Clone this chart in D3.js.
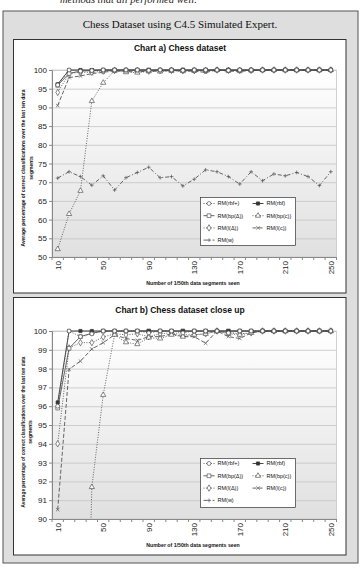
<!DOCTYPE html>
<html>
<head>
<meta charset="utf-8">
<script src="https://cdn.jsdelivr.net/npm/d3@7"></script>
<style>
  body { margin: 0; background: #fff; }
  svg { display: block; font-family: "Liberation Sans", Arial, sans-serif; }
</style>
</head>
<body>
<svg id="fig" width="361" height="571"></svg>
<script>
// x categories: number of 1/50th segments seen
var segs = [10, 20, 30, 40, 50, 60, 70, 80, 90, 100, 110, 120, 130, 140, 150, 160, 170, 180, 190, 200, 210, 220, 230, 240, 250];
var xLabels = [10, 50, 90, 130, 170, 210, 250];
var yTicksA = [50, 55, 60, 65, 70, 75, 80, 85, 90, 95, 100];
var yTicksB = [90, 91, 92, 93, 94, 95, 96, 97, 98, 99, 100];

var seriesNames = ["RM(rbf+)", "RM(rbf)", "RM(bp(\u0394))", "RM(bp(c))", "RM(l(\u0394))", "RM(l(c))", "RM(w)"];

var rbfPlus = [96.0, 100, 99.7, 99.85, 100, 100, 100, 100, 99.9, 100, 100, 99.9, 100, 100, 100, 99.9, 100, 100, 100, 100, 100, 100, 100, 100, 100];
var rbf     = [96.2, 100, 100, 100, 100, 100, 100, 100, 100, 100, 100, 100, 100, 100, 100, 100, 100, 100, 100, 100, 100, 100, 100, 100, 100];
var bpD     = [95.9, 99.08, 99.7, 99.88, 100, 100, 100, 100, 100, 100, 100, 100, 100, 100, 100, 100, 100, 100, 100, 100, 100, 100, 100, 100, 100];
var bpC     = [52.1, 61.5, 67.7, 91.7, 96.6, 99.8, 99.4, 99.3, 99.65, 99.6, 99.8, 99.7, 99.8, 99.85, 100, 99.85, 99.8, 99.9, 100, 100, 100, 100, 100, 100, 100];
var lD      = [94.0, 99.1, 99.38, 99.38, 99.68, 99.85, 99.8, 99.85, 99.7, 99.85, 99.9, 99.8, 99.8, 99.85, 100, 99.9, 99.85, 99.9, 100, 100, 100, 100, 100, 100, 100];
var lC      = [90.5, 97.96, 98.4, 99.04, 99.38, 99.8, 99.6, 99.5, 99.7, 99.7, 99.85, 99.7, 99.7, 99.35, 100, 99.7, 99.6, 99.9, 100, 100, 100, 100, 100, 100, 100];
var w       = [71.1, 72.8, 71.5, 69.2, 71.7, 67.9, 71.2, 72.6, 74.0, 71.2, 71.5, 69.0, 70.8, 73.3, 72.8, 71.5, 69.5, 72.8, 70.4, 72.2, 71.7, 72.6, 71.5, 69.1, 72.8];

// marker shapes for x and +
var symX = { draw: function(c, s) { var r = Math.sqrt(s) / 2; c.moveTo(-r, -r); c.lineTo(r, r); c.moveTo(-r, r); c.lineTo(r, -r); } };
var symPlus = { draw: function(c, s) { var r = Math.sqrt(s) / 2; c.moveTo(-r, 0); c.lineTo(r, 0); c.moveTo(0, -r); c.lineTo(0, r); } };

var series = [
  { name: seriesNames[0], values: rbfPlus, sym: d3.symbolCircle, size: 12, fill: "#fff", dash: "1,1.5", color: "#555" },
  { name: seriesNames[1], values: rbf,     sym: d3.symbolSquare, size: 10, fill: "#333", dash: null,    color: "#333" },
  { name: seriesNames[2], values: bpD,     sym: d3.symbolSquare, size: 14, fill: "#fff", dash: null,    color: "#555" },
  { name: seriesNames[3], values: bpC,     sym: d3.symbolTriangle, size: 12, fill: "#fff", dash: "1,1.5", color: "#555" },
  { name: seriesNames[4], values: lD,      sym: d3.symbolDiamond, size: 12, fill: "#fff", dash: "1,1.5", color: "#555" },
  { name: seriesNames[5], values: lC,      sym: symX,    size: 12, fill: "none", dash: "4,2",  color: "#555" },
  { name: seriesNames[6], values: w,       sym: symPlus, size: 14, fill: "none", dash: "4,2,1,2", color: "#555" }
];

var svg = d3.select("#fig");

var defs = svg.append("defs");
var grad = defs.append("linearGradient").attr("id", "plotGrad")
  .attr("x1", 0).attr("y1", 0).attr("x2", 0).attr("y2", 1);
grad.append("stop").attr("offset", "0%").attr("stop-color", "#ffffff");
grad.append("stop").attr("offset", "100%").attr("stop-color", "#e0e0e0");

// cut-off caption line from the page above
svg.append("text")
  .attr("x", 60).attr("y", 3)
  .attr("font-family", "Liberation Serif, Times New Roman, serif")
  .attr("font-style", "italic")
  .attr("font-size", 10.5)
  .attr("fill", "#222")
  .text("methods that all performed well.");

// outer grey panel
svg.append("rect")
  .attr("x", 3).attr("y", 11).attr("width", 355).attr("height", 552)
  .attr("fill", "#dedede").attr("stroke", "#555").attr("stroke-width", 1);

svg.append("text")
  .attr("x", 180).attr("y", 28)
  .attr("text-anchor", "middle")
  .attr("font-family", "Liberation Serif, Times New Roman, serif")
  .attr("font-size", 11)
  .attr("fill", "#111")
  .text("Chess Dataset using C4.5 Simulated Expert.");

function drawChart(cfg) {
  svg.append("rect")
    .attr("x", 13.5).attr("y", cfg.boxY).attr("width", 332.5).attr("height", cfg.boxH)
    .attr("fill", "#fff").attr("stroke", "#333").attr("stroke-width", 1);

  svg.append("text")
    .attr("x", 180).attr("y", cfg.titleY)
    .attr("text-anchor", "middle")
    .attr("font-weight", "bold")
    .attr("font-size", 8.5)
    .attr("fill", "#111")
    .text(cfg.title);

  var x = d3.scaleBand().domain(segs).range([52, 336.5]);
  var y = d3.scaleLinear().domain(cfg.yDomain).range([cfg.bottom, cfg.top]);
  var bw = x.bandwidth();
  var x0 = x.range()[0], x1 = x.range()[1];

  svg.append("rect")
    .attr("x", x0).attr("y", cfg.top)
    .attr("width", x1 - x0).attr("height", cfg.bottom - cfg.top)
    .attr("fill", "url(#plotGrad)")
    .attr("stroke", "#c8c8c8").attr("stroke-width", 0.8);

  // gridlines
  var grid = svg.append("g")
    .attr("transform", "translate(" + x0 + ",0)")
    .call(d3.axisLeft(y).tickValues(cfg.yTicks).tickSize(-(x1 - x0)).tickFormat(""));
  grid.select(".domain").remove();
  grid.selectAll("line").attr("stroke", "#c4c4c4").attr("stroke-width", 0.8);

  // y axis
  var ya = svg.append("g")
    .attr("transform", "translate(" + x0 + ",0)")
    .call(d3.axisLeft(y).tickValues(cfg.yTicks).tickSize(3).tickPadding(2));
  ya.select(".domain").attr("stroke", "#888");
  ya.selectAll("line").attr("stroke", "#888");
  ya.selectAll("text").attr("font-size", 8).attr("fill", "#222").attr("font-family", "Liberation Sans, Arial, sans-serif");

  // x axis
  var xa = svg.append("g")
    .attr("transform", "translate(0," + cfg.bottom + ")")
    .call(d3.axisBottom(x).tickValues(xLabels).tickSize(0));
  xa.select(".domain").attr("stroke", "#888");
  xa.selectAll("text")
    .attr("font-size", 8).attr("fill", "#222").attr("font-family", "Liberation Sans, Arial, sans-serif")
    .attr("text-anchor", "end")
    .attr("dy", "0.35em")
    .attr("transform", "translate(0,4) rotate(-90)")
    .attr("x", 0).attr("y", 0);

  // tick marks between categories
  xa.selectAll(".btick")
    .data(segs.concat(["end"]))
    .enter().append("line")
    .attr("class", "btick")
    .attr("x1", function(d) { return d === "end" ? x1 : x(d); })
    .attr("x2", function(d) { return d === "end" ? x1 : x(d); })
    .attr("y1", 0).attr("y2", 3)
    .attr("stroke", "#888");

  svg.append("text")
    .attr("x", 193).attr("y", cfg.xTitleY)
    .attr("text-anchor", "middle")
    .attr("font-weight", "bold").attr("font-size", 5.2)
    .attr("fill", "#111")
    .text("Number of 1/50th data segments seen");

  var yc = cfg.yTitleC;
  svg.append("text")
    .attr("transform", "translate(" + cfg.yTitleX1 + "," + yc + ") rotate(-90)")
    .attr("text-anchor", "middle")
    .attr("font-weight", "bold").attr("font-size", 5)
    .attr("textLength", cfg.yTitleLen).attr("lengthAdjust", "spacingAndGlyphs")
    .attr("fill", "#111")
    .text("Average percentage of correct classifications over the last ten data");
  svg.append("text")
    .attr("transform", "translate(" + cfg.yTitleX2 + "," + yc + ") rotate(-90)")
    .attr("text-anchor", "middle")
    .attr("font-weight", "bold").attr("font-size", 5)
    .attr("fill", "#111")
    .text("segments");

  defs.append("clipPath").attr("id", cfg.clip)
    .append("rect").attr("x", x0 - 5).attr("y", cfg.top - 5)
    .attr("width", x1 - x0 + 10).attr("height", cfg.bottom - cfg.top + 5);

  var plot = svg.append("g").attr("clip-path", "url(#" + cfg.clip + ")");

  var line = d3.line()
    .x(function(d, i) { return x(segs[i]) + bw / 2; })
    .y(function(d) { return y(d); });

  series.slice().reverse().forEach(function(s) {
    plot.append("path")
      .datum(s.values)
      .attr("d", line)
      .attr("fill", "none")
      .attr("stroke", s.color)
      .attr("stroke-width", 0.9)
      .attr("stroke-dasharray", s.dash);

    plot.selectAll(null)
      .data(s.values)
      .enter().append("path")
      .attr("transform", function(d, i) { return "translate(" + (x(segs[i]) + bw / 2) + "," + y(d) + ")"; })
      .attr("d", d3.symbol().type(s.sym).size(s.size))
      .attr("fill", s.fill)
      .attr("stroke", s.color)
      .attr("stroke-width", 0.7);
  });

  // legend
  var L = cfg.legend;
  var lg = svg.append("g").attr("transform", "translate(" + L.x + "," + L.y + ")");
  lg.append("rect").attr("width", 95).attr("height", L.h)
    .attr("fill", "#fff").attr("stroke", "#333").attr("stroke-width", 0.7);
  var rowH = L.rowH;
  var item = lg.selectAll(".item")
    .data(series)
    .enter().append("g")
    .attr("transform", function(d, i) {
      return "translate(" + (i % 2 === 0 ? 3 : 52) + "," + (L.firstRow + Math.floor(i / 2) * rowH) + ")";
    });
  item.append("line")
    .attr("x1", 0).attr("x2", 11).attr("y1", 0).attr("y2", 0)
    .attr("stroke", function(d) { return d.color; })
    .attr("stroke-width", 0.9)
    .attr("stroke-dasharray", function(d) { return d.dash; });
  item.append("path")
    .attr("transform", "translate(5.5,0)")
    .attr("d", function(d) { return d3.symbol().type(d.sym).size(d.size)(); })
    .attr("fill", function(d) { return d.fill; })
    .attr("stroke", function(d) { return d.color; })
    .attr("stroke-width", 0.7);
  item.append("text")
    .attr("x", 14).attr("y", 0).attr("dy", "0.35em")
    .attr("font-size", 5.5).attr("fill", "#111")
    .text(function(d) { return d.name; });
}

drawChart({
  boxY: 39.5, boxH: 253.5, title: "Chart a) Chess dataset", titleY: 51,
  top: 70, bottom: 257, yDomain: [50, 100], yTicks: yTicksA,
  xTitleY: 285, yTitleC: 168, yTitleX1: 25, yTitleX2: 32.5, yTitleLen: 157,
  clip: "clipA",
  legend: { x: 200.5, y: 197.5, h: 48, firstRow: 6, rowH: 12.2 }
});

drawChart({
  boxY: 297.5, boxH: 257.5, title: "Chart b) Chess dataset close up", titleY: 313,
  top: 331, bottom: 519, yDomain: [90, 100], yTicks: yTicksB,
  xTitleY: 547, yTitleC: 432, yTitleX1: 24.5, yTitleX2: 31.5, yTitleLen: 151,
  clip: "clipB",
  legend: { x: 200.5, y: 458.5, h: 49, firstRow: 5, rowH: 12.3 }
});
</script>
</body>
</html>
